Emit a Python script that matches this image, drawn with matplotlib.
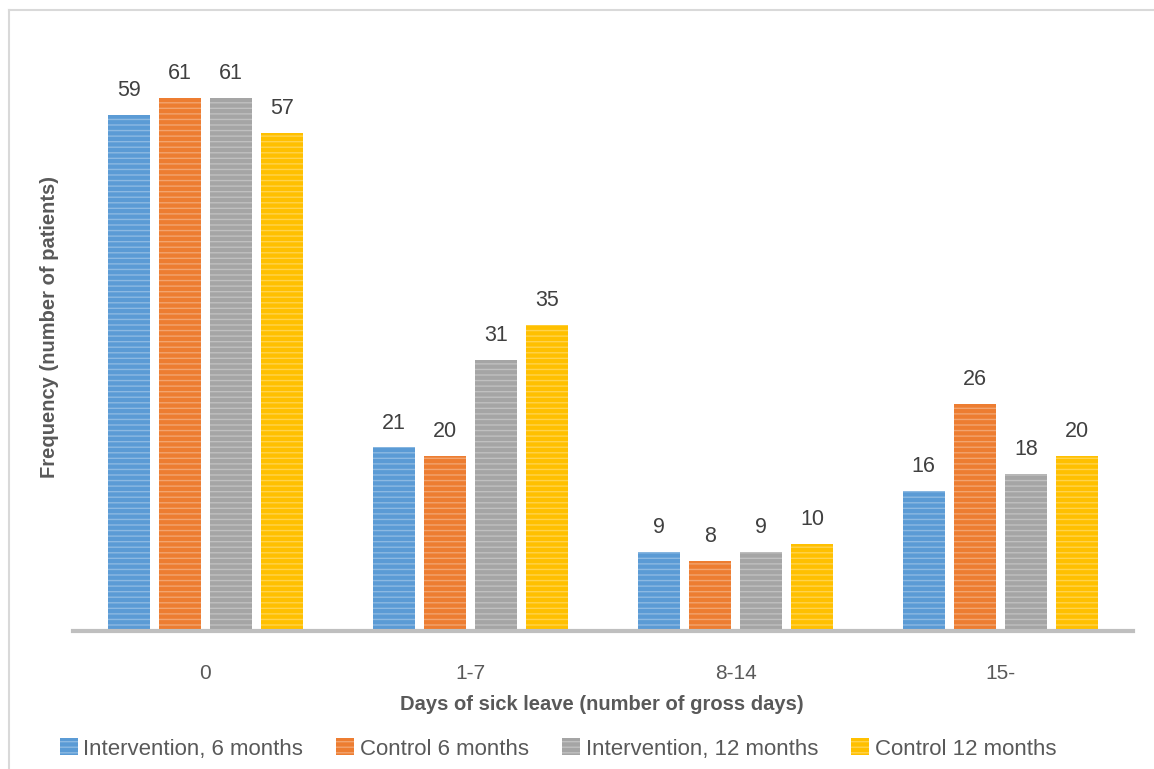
import matplotlib
matplotlib.use('Agg')
import matplotlib.pyplot as plt
import matplotlib.colors as mcolors
import numpy as np

# Data
categories = ['0', '1-7', '8-14', '15-']
series_names = ['Intervention, 6 months', 'Control 6 months',
                'Intervention, 12 months', 'Control 12 months']
interv_6 = [59, 21, 9, 16]
control_6 = [61, 20, 8, 26]
interv_12 = [61, 31, 9, 18]
control_12 = [57, 35, 10, 20]
series = [interv_6, control_6, interv_12, control_12]
colors = ['#5b9bd5', '#ed7d31', '#a5a5a5', '#ffc000']

plt.rcParams['font.family'] = ['Liberation Sans', 'DejaVu Sans']
plt.rcParams['hatch.linewidth'] = 1.0

fig = plt.figure(figsize=(11.54, 7.69), dpi=100)
ax = fig.add_axes([73 / 1154, 1 - 631 / 769, 1060 / 1154, 568 / 769])

x = np.arange(len(categories))
width = 0.16
step = 0.193
text_color = '#595959'

for i, (vals, col) in enumerate(zip(series, colors)):
    light = mcolors.to_rgb(col)
    light = tuple(0.7 * c + 0.3 for c in light)
    pos = x + (i - 1.5) * step
    bars = ax.bar(pos, vals, width, color=col, edgecolor=light,
                  linewidth=0, hatch='---', label=series_names[i])
    for b, v in zip(bars, vals):
        ax.text(b.get_x() + b.get_width() / 2, v + 1.6, str(v),
                ha='center', va='bottom', fontsize=15.5, color='#404040')

ax.set_xlim(-0.5, 3.5)
ax.set_ylim(0, 65)
ax.set_yticks([])
ax.set_xticks(x)
ax.set_xticklabels(categories, fontsize=15, color=text_color)
ax.tick_params(axis='x', length=0, pad=24)
for s in ['top', 'right', 'left']:
    ax.spines[s].set_visible(False)
ax.spines['bottom'].set_color('#bfbfbf')
ax.spines['bottom'].set_linewidth(3)

fig.text(602 / 1154, 1 - 705 / 769, 'Days of sick leave (number of gross days)',
         ha='center', va='center', fontsize=14.5, fontweight='bold', color=text_color)
fig.text(50 / 1154, 1 - 327 / 769, 'Frequency (number of patients)',
         ha='center', va='center', rotation=90, fontsize=14.5,
         fontweight='bold', color=text_color)

leg = fig.legend(loc='center', bbox_to_anchor=(558 / 1154, 1 - 749 / 769),
                 ncol=4, frameon=False, fontsize=16, handlelength=0.8,
                 handleheight=0.8, handletextpad=0.25, columnspacing=1.5)
for t in leg.get_texts():
    t.set_color(text_color)

# Light chart frame (top and left edges visible)
fig.add_artist(plt.Line2D([9 / 1154, 1], [1 - 9.5 / 769, 1 - 9.5 / 769],
                          color='#d9d9d9', linewidth=1.5))
fig.add_artist(plt.Line2D([9 / 1154, 9 / 1154], [0, 1 - 9.5 / 769],
                          color='#d9d9d9', linewidth=1.5))

fig.savefig('out.png', dpi=100)
